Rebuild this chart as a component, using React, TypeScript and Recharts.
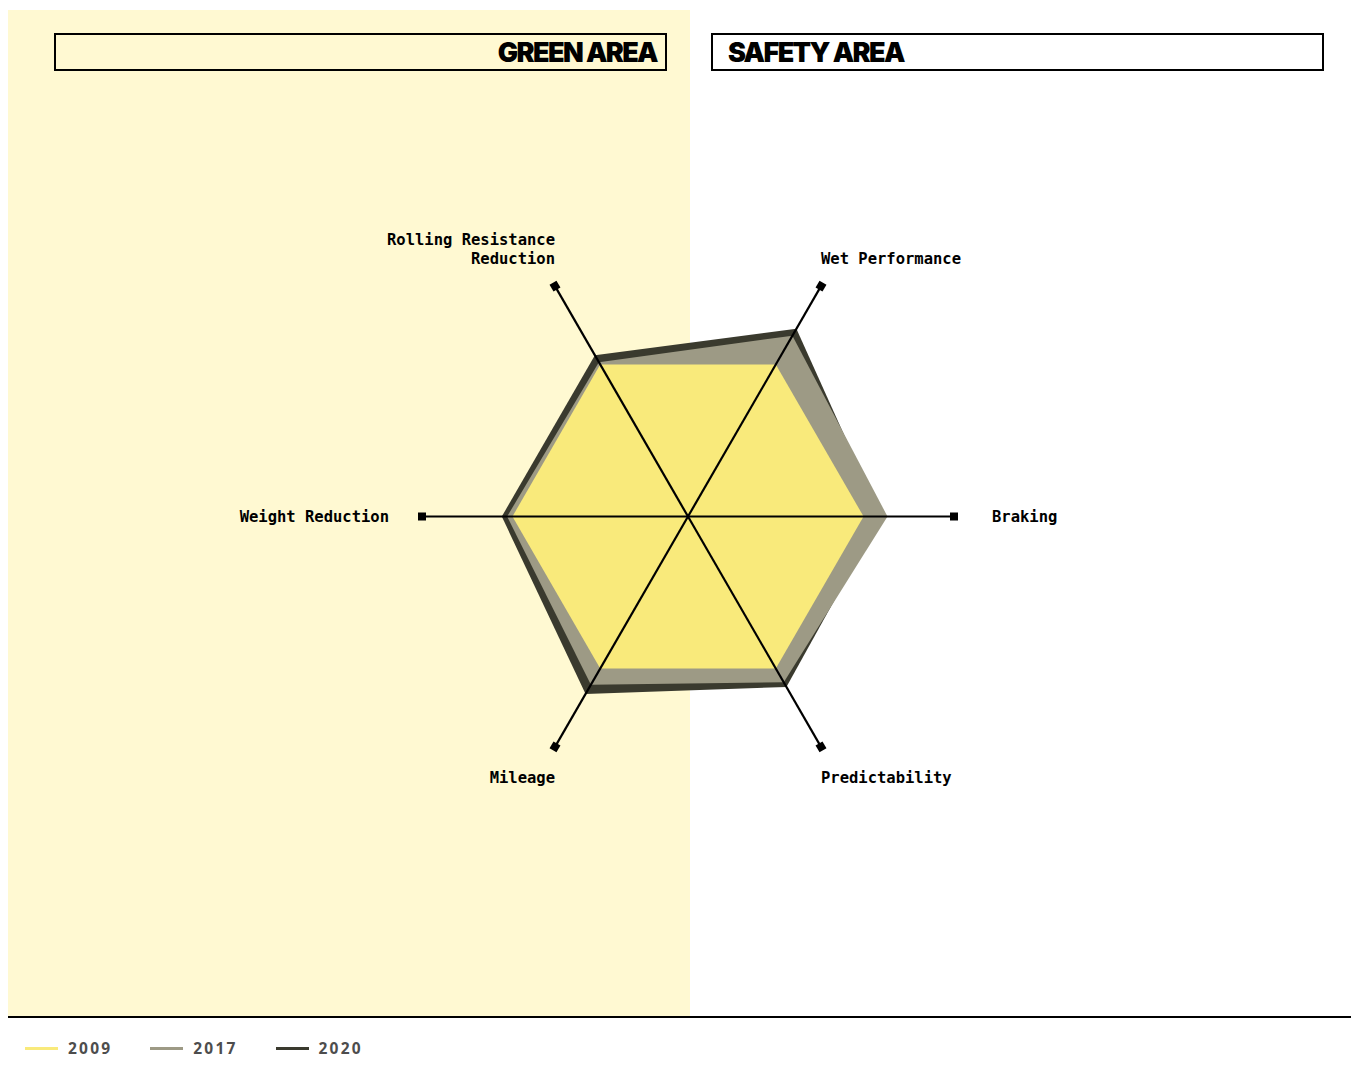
import React from "react";
import { RadarChart, Radar, PolarAngleAxis, PolarRadiusAxis } from "recharts";

// tyre performance axes, clockwise from the right
const axes = [
	"Braking",
	"Predictability",
	"Mileage",
	"Weight Reduction",
	"Rolling Resistance Reduction",
	"Wet Performance",
];
const values2009 = [66, 66, 66, 66, 66, 66];
const values2017 = [75, 72, 73, 68, 67, 78.5];
const values2020 = [72.5, 74, 77, 70, 70, 81.5];
const years = ["2009", "2017", "2020"];
const yearColors = ["#F9EA7B", "#9D9A85", "#3A3A2E"];

const data = axes.map((axis, i) => ({
	axis,
	y2009: values2009[i],
	y2017: values2017[i],
	y2020: values2020[i],
}));

const CX = 680;
const CY = 508.5;
const R = 266;

const wrapLabel = (text: string, max = 18) => {
	const lines: string[] = [];
	let cur = "";
	text.split(" ").forEach((w) => {
		if (cur && (cur + " " + w).length > max) {
			lines.push(cur);
			cur = w;
		} else {
			cur = cur ? cur + " " + w : w;
		}
	});
	if (cur) lines.push(cur);
	return lines;
};

const AxisTick = (props: any) => {
	const { payload } = props;
	const angle = payload.coordinate;
	const rad = (-angle * Math.PI) / 180;
	const cos = Math.cos(rad);
	const sin = Math.sin(rad);
	const ex = CX + R * cos;
	const ey = CY + R * sin;
	const lines = wrapLabel(String(payload.value));
	const lineH = 19;

	let tx = ex;
	let anchor: "start" | "end" = cos > 0 ? "start" : "end";
	let firstY = ey;
	if (Math.abs(sin) < 0.01) {
		tx = ex + (cos > 0 ? 38 : -33);
		firstY = ey - ((lines.length - 1) * lineH) / 2;
	} else if (sin < 0) {
		firstY = ey - 27 - (lines.length - 1) * lineH;
	} else {
		firstY = ey + 31;
	}

	return (
		<g>
			<line x1={CX} y1={CY} x2={ex} y2={ey} stroke='#000' strokeWidth={2.2} />
			<rect x={ex - 4} y={ey - 4} width={8} height={8} fill='#000' transform={`rotate(${-angle} ${ex} ${ey})`} />
			<text
				x={tx}
				y={firstY}
				textAnchor={anchor}
				dominantBaseline='middle'
				fontFamily='"DejaVu Sans Mono", "Liberation Mono", monospace'
				fontWeight={700}
				fontSize={15.5}
				fill='#000'
			>
				{lines.map((l, i) => (
					<tspan key={i} x={tx} dy={i === 0 ? 0 : lineH}>
						{l}
					</tspan>
				))}
			</text>
		</g>
	);
};

const titleStyle: React.CSSProperties = {
	position: "absolute",
	top: 25,
	width: 609,
	height: 34,
	border: "2px solid #000",
	display: "flex",
	alignItems: "center",
	fontFamily: "Inter, 'Noto Sans', sans-serif",
	fontWeight: 900,
	fontSize: 27,
	letterSpacing: -1.6,
	color: "#000",
	boxSizing: "content-box",
};

export default function App() {
	return (
		<div style={{ position: "relative", width: 1351, height: 1055 }}>
			<div style={{ position: "absolute", left: 0, top: 2, width: 682, height: 1006, background: "#FFF9D2" }} />
			<div style={{ position: "absolute", left: 0, top: 1008, width: 1351, height: 2, background: "#000" }} />

			<div style={{ ...titleStyle, left: 46, justifyContent: "flex-end" }}>
				<span style={{ marginRight: 8 }}>GREEN AREA</span>
			</div>
			<div style={{ ...titleStyle, left: 703, justifyContent: "flex-start" }}>
				<span style={{ marginLeft: 15 }}>SAFETY AREA</span>
			</div>

			<div style={{ position: "absolute", left: 0, top: 0 }}>
				<RadarChart
					width={1351}
					height={1000}
					data={data}
					cx={CX}
					cy={CY}
					outerRadius={R}
					startAngle={0}
					endAngle={-360}
					margin={{ top: 0, right: 0, bottom: 0, left: 0 }}
				>
					<PolarRadiusAxis domain={[0, 100]} tick={false} axisLine={false} />
					<Radar dataKey='y2020' stroke='none' fill={yearColors[2]} fillOpacity={1} isAnimationActive={false} />
					<Radar dataKey='y2017' stroke='none' fill={yearColors[1]} fillOpacity={1} isAnimationActive={false} />
					<Radar dataKey='y2009' stroke='none' fill={yearColors[0]} fillOpacity={1} isAnimationActive={false} />
					<PolarAngleAxis dataKey='axis' tick={<AxisTick />} tickLine={false} axisLine={false} />
				</RadarChart>
			</div>

			<div
				style={{
					position: "absolute",
					left: 17,
					top: 1029,
					display: "flex",
					alignItems: "center",
					gap: 38,
					fontFamily: "'Open Sans', sans-serif",
					fontWeight: 700,
					fontSize: 15.5,
					letterSpacing: 2.2,
					color: "#4D4D4D",
				}}
			>
				{years.map((y, i) => (
					<div key={y} style={{ display: "flex", alignItems: "center" }}>
						<span style={{ display: "inline-block", width: 33, height: 3, background: yearColors[i], marginRight: 10 }} />
						<span>{y}</span>
					</div>
				))}
			</div>
		</div>
	);
}
